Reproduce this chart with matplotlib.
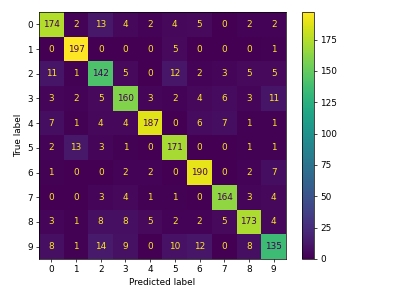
import matplotlib
matplotlib.use("Agg")
import matplotlib.pyplot as plt
import numpy as np

labels = [0, 1, 2, 3, 4, 5, 6, 7, 8, 9]

# rows = true label, cols = predicted label
row0 = [174, 2, 13, 4, 2, 4, 5, 0, 2, 2]
row1 = [0, 197, 0, 0, 0, 5, 0, 0, 0, 1]
row2 = [11, 1, 142, 5, 0, 12, 2, 3, 5, 5]
row3 = [3, 2, 5, 160, 3, 2, 4, 6, 3, 11]
row4 = [7, 1, 4, 4, 187, 0, 6, 7, 1, 1]
row5 = [2, 13, 3, 1, 0, 171, 0, 0, 1, 1]
row6 = [1, 0, 0, 2, 2, 0, 190, 0, 2, 7]
row7 = [0, 0, 3, 4, 1, 1, 0, 164, 3, 4]
row8 = [3, 1, 8, 8, 5, 2, 2, 5, 173, 4]
row9 = [8, 1, 14, 9, 0, 10, 12, 0, 8, 135]

cm = np.array([row0, row1, row2, row3, row4, row5, row6, row7, row8, row9])

dpi = 64
fig = plt.figure(figsize=(405 / dpi, 296 / dpi), dpi=dpi)
ax = fig.add_axes([39 / 405, 37 / 296, 247 / 405, 247 / 296])
cax = fig.add_axes([302 / 405, 37 / 296, 12 / 405, 247 / 296])

cmap = plt.get_cmap("viridis")
im = ax.imshow(cm, cmap=cmap, interpolation="nearest", aspect="auto")
fig.colorbar(im, cax=cax)

# text colour flips at mid value, like sklearn's display
thresh = (cm.max() + cm.min()) / 2.0
cmap_min, cmap_max = cmap(0), cmap(1.0)
for i in range(cm.shape[0]):
    for j in range(cm.shape[1]):
        color = cmap_max if cm[i, j] < thresh else cmap_min
        ax.text(j, i, f"{cm[i, j]}", ha="center", va="center", color=color)

ax.set_xticks(range(len(labels)))
ax.set_yticks(range(len(labels)))
ax.set_xticklabels(labels)
ax.set_yticklabels(labels)
ax.set_xlabel("Predicted label")
ax.set_ylabel("True label")

fig.savefig("out.png", dpi=dpi)
plt.close(fig)
